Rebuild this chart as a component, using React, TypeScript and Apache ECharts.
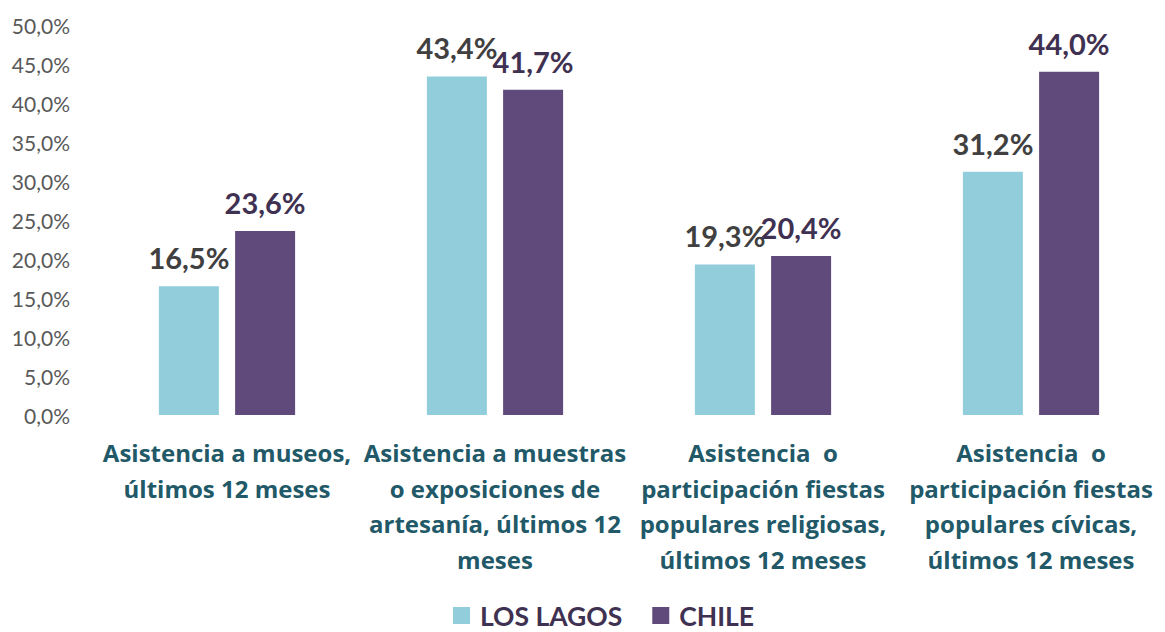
import React, { useEffect, useRef } from "react";
import * as echarts from "echarts";

const categories = [
  "Asistencia a museos,\núltimos 12 meses",
  "Asistencia a muestras\no exposiciones de\nartesanía, últimos 12\nmeses",
  "Asistencia  o\nparticipación fiestas\npopulares religiosas,\núltimos 12 meses",
  "Asistencia  o\nparticipación fiestas\npopulares cívicas,\núltimos 12 meses",
];
const losLagos = [16.5, 43.4, 19.3, 31.2];
const chile = [23.6, 41.7, 20.4, 44.0];
const seriesNames = ["LOS LAGOS", "CHILE"];

const fmt = (v: number) => v.toFixed(1).replace(".", ",") + "%";
const FONT = "Lato, 'Open Sans', sans-serif";
const CAT_FONT = "'Open Sans', Lato, sans-serif";

export default function App() {
  const ref = useRef<HTMLDivElement>(null);
  useEffect(() => {
    if (!ref.current) return;
    const chart = echarts.init(ref.current, undefined, { renderer: "svg" });
    chart.setOption({
      animation: false,
      textStyle: { fontFamily: FONT },
      grid: { left: 93, right: -8, top: 25, bottom: 217 },
      legend: {
        top: 597,
        left: 448,
        itemWidth: 17,
        itemHeight: 17,
        itemGap: 30,
        icon: "rect",
        textStyle: { fontSize: 26.5, fontWeight: "bold", color: "#3F3151", fontFamily: FONT, padding: [0, 0, 0, 5] },
        data: seriesNames,
      },
      xAxis: {
        type: "category",
        data: categories,
        axisLine: { show: false },
        axisTick: { show: false },
        axisLabel: {
          interval: 0,
          margin: 20,
          fontSize: 24,
          lineHeight: 35.5,
          fontWeight: "bold",
          color: "#215968",
          fontFamily: CAT_FONT,
          align: "center",
          verticalAlign: "top",
        },
      },
      yAxis: {
        type: "value",
        min: 0,
        max: 50,
        interval: 5,
        splitLine: { show: false },
        axisLine: { show: false },
        axisTick: { show: false },
        axisLabel: {
          margin: 23,
          fontSize: 21,
          color: "#595959",
          fontFamily: FONT,
          formatter: (v: number) => fmt(v),
        },
      },
      series: [
        {
          name: seriesNames[0],
          type: "bar",
          data: losLagos,
          barWidth: 60,
          barGap: "27%",
          itemStyle: { color: "#92CDDC" },
          label: {
            show: true,
            position: "top",
            distance: 14,
            fontSize: 29,
            fontWeight: "bold",
            color: "#404040",
            fontFamily: FONT,
            formatter: (p: any) => fmt(p.value),
          },
        },
        {
          name: seriesNames[1],
          type: "bar",
          data: chile,
          barWidth: 60,
          barGap: "27%",
          itemStyle: { color: "#604A7B" },
          label: {
            show: true,
            position: "top",
            distance: 14,
            fontSize: 29,
            fontWeight: "bold",
            color: "#3F3151",
            fontFamily: FONT,
            formatter: (p: any) => fmt(p.value),
          },
        },
      ],
    });
    return () => chart.dispose();
  }, []);
  return (
    <div
      ref={ref}
      style={{ position: "absolute", left: 0, top: 0, width: 1165, height: 632 }}
    />
  );
}
